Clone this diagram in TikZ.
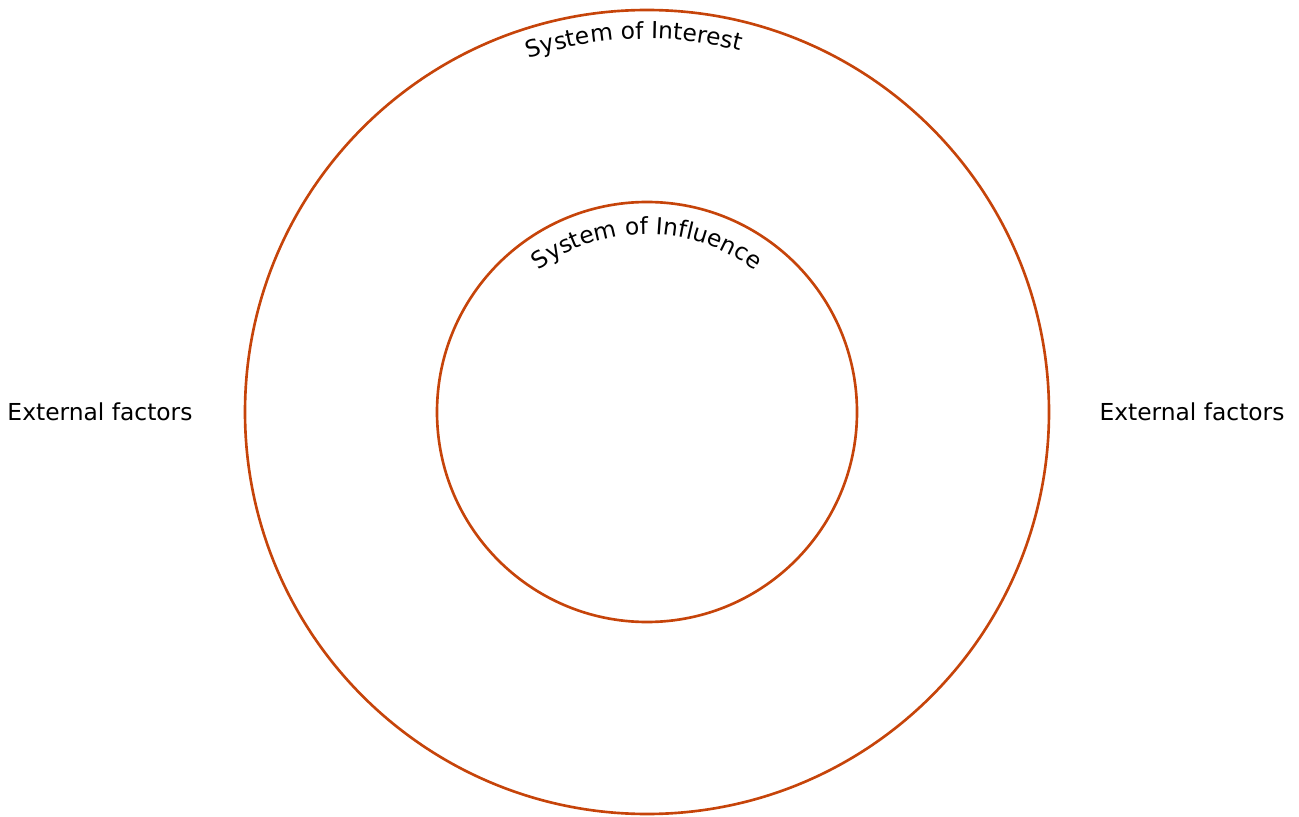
\documentclass[tikz,border=0pt]{standalone}
\usepackage{fontspec}
\setmainfont{DejaVu Sans}
\usetikzlibrary{decorations.text}

\definecolor{ringcol}{RGB}{198,68,10}
\newcommand\ringfont{\fontsize{13.3pt}{16pt}\selectfont}

\begin{document}
\begin{tikzpicture}[x=0.02cm,y=0.02cm]
        \useasboundingbox (0,0) rectangle (1299,816);
        \tikzset{ring/.style={draw=ringcol, line width=1.5pt},
                 factor/.style={font=\ringfont, inner sep=0pt}}

        \coordinate (centre) at (647,404);
        \draw[ring] (centre) circle[radius=402];
        \draw[ring] (centre) circle[radius=210];

        % labels along the rings
        \path[decorate, decoration={text along path, text align=center,
              text={|\ringfont|System of Interest}}]
              (centre) ++(162:373) arc[start angle=162, end angle=22, radius=373];
        \path[decorate, decoration={text along path, text align=center,
              text={|\ringfont|System of Influence}}]
              (centre) ++(155:178) arc[start angle=155, end angle=25, radius=178];

        \node[factor] (leftfactors) at (100,404) {External factors};
        \node[factor] (rightfactors) at (1192,404) {External factors};
    \end{tikzpicture}
\end{document}
